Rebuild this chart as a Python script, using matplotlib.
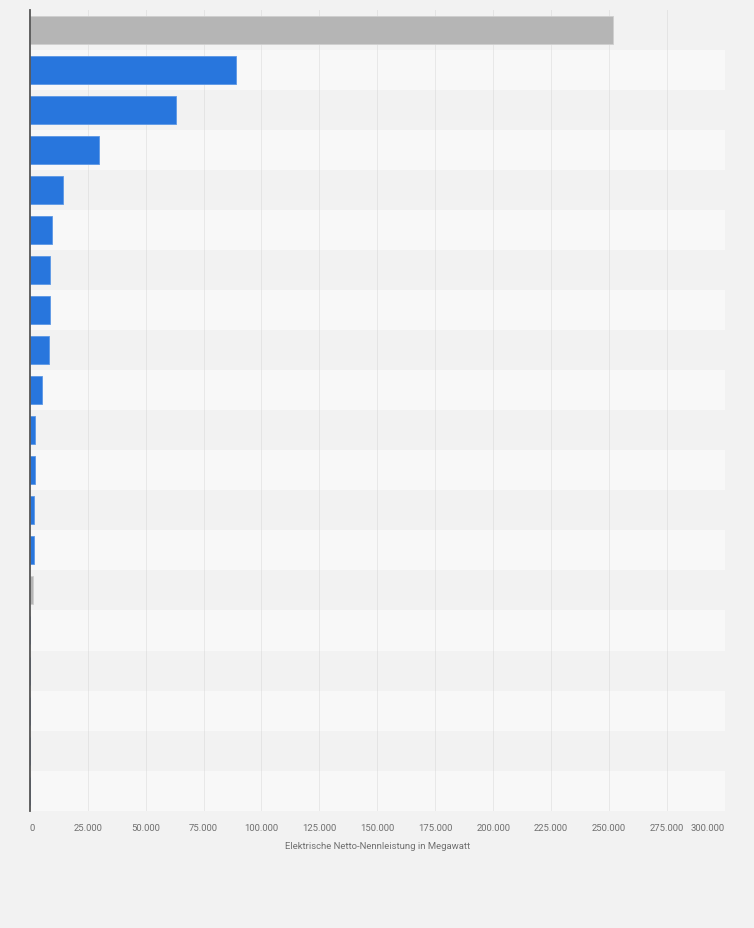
import numpy as np
import matplotlib.pyplot as plt
from matplotlib.ticker import FuncFormatter

# rows from top to bottom; labels are not shown in the chart
rows = [f"Position {i}" for i in range(1, 21)]
leistung_mw = [251800, 89200, 63200, 30000, 14500, 9600, 8900, 8900, 8300, 5400,
               2400, 2400, 1850, 1850, 1550, 0, 0, 0, 0, 0]
highlight = [True] + [False] * 13 + [True] + [False] * 5

xticks = np.arange(0, 300001, 25000)

blue = "#2876dd"
grey = "#b5b5b5"

fig = plt.figure(figsize=(7.54, 9.29), dpi=100, facecolor="#f2f2f2")
ax = fig.add_axes([29.7 / 754, 1 - 811.7 / 929, (725 - 29.7) / 754, 801 / 929])
ax.set_facecolor("#f2f2f2")

n = len(rows)
y = np.arange(n)

for i in y:
    ax.axhspan(i - 0.5, i + 0.5, color="#f2f2f2" if i % 2 == 0 else "#f8f8f8",
               lw=0, zorder=0)

for xt in xticks[1:]:
    ax.axvline(xt, color="#d2d2d2", lw=0.6, ls=(0, (1.2, 1.2)), zorder=1)

colors = [grey if h else blue for h in highlight]
edges = ["#cfcfcf" if h else "#5c98e6" for h in highlight]
ax.barh(y, leistung_mw, height=0.7, color=colors, edgecolor=edges, lw=0.6, zorder=2)

ax.set_ylim(n - 0.5, -0.5)
ax.set_xlim(0, 300000)
ax.set_yticks([])

ax.set_xticks(xticks)
ax.xaxis.set_major_formatter(FuncFormatter(lambda v, p: f"{int(v):,}".replace(",", ".")))
ax.tick_params(axis="x", length=0, pad=9, labelsize=6.8, labelcolor="#707070")
for lab in ax.get_xticklabels():
    lab.set_fontfamily("Roboto")
labels = ax.get_xticklabels()
labels[0].set_horizontalalignment("left")
labels[-1].set_horizontalalignment("right")

ax.set_xlabel("Elektrische Netto-Nennleistung in Megawatt", fontsize=6.8,
              color="#707070", family="Roboto", labelpad=6)

for s in ["top", "right", "bottom"]:
    ax.spines[s].set_visible(False)
ax.spines["left"].set_color("#555555")
ax.spines["left"].set_linewidth(1.3)
ax.spines["left"].set_zorder(3)

fig.savefig("out.png", dpi=100, facecolor=fig.get_facecolor())
